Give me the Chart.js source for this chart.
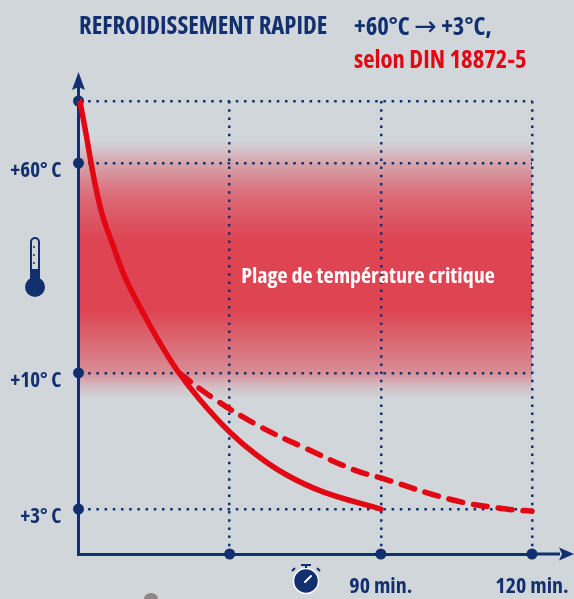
<!DOCTYPE html>
<html lang="fr">
<head>
<meta charset="utf-8">
<title>Refroidissement rapide</title>
<script src="https://cdn.jsdelivr.net/npm/chart.js@4"></script>
<style>
  body { margin: 0; background: #d1d6da; }
  #wrap { position: relative; width: 574px; height: 599px; overflow: hidden; font-family: "Open Sans", sans-serif; font-weight: bold; font-stretch: condensed; }
  #wrap div { position: absolute; white-space: nowrap; font-size: 24.7px; line-height: 28px; color: #12306f; }
  #wrap svg { position: absolute; left: 0; top: 0; }
  #wrap .arrow { font-family: "DejaVu Sans", sans-serif; font-weight: normal; font-stretch: normal; font-size: 27px; }
  canvas { position: absolute; left: 0; top: 0; }
</style>
</head>
<body>
<div id="wrap">
  <canvas id="myChart" width="574" height="599"></canvas>
  <div style="left:79px;top:11px">REFROIDISSEMENT RAPIDE</div>
  <div style="left:354px;top:12px">+60°C <span class="arrow">→</span> +3°C,</div>
  <div style="left:354px;top:45px;color:#e30613">selon DIN 18872-5</div>
  <svg width="574" height="599">
    <!-- thermometre -->
    <rect x="31" y="238" width="8" height="46" rx="4" fill="#d1d6da" stroke="#12306f" stroke-width="2"/>
    <rect x="31" y="269" width="8" height="14" fill="#12306f"/>
    <circle cx="35" cy="287" r="10" fill="#12306f"/>
    <path d="M33 247h2M33 255h2M33 263h2" stroke="#12306f" stroke-width="1.5"/>
    <!-- chrono -->
    <circle cx="306" cy="581" r="12.5" fill="#12306f" stroke="#fff" stroke-width="1.5"/>
    <path d="M301 565h10M306 565v3M295 568l-3 3M317 568l3 3" stroke="#12306f" stroke-width="2"/>
    <path d="M305 582l6-6" stroke="#fff" stroke-width="2" stroke-linecap="round"/>
    <!-- bout de photo en bas de l'image -->
    <ellipse cx="151" cy="599" rx="7" ry="6" fill="#8f8688"/>
  </svg>
</div>
<script>
// values
var xTicks = [45, 90, 120];
var xTickLabels = ['', '90 min.', '120 min.'];
var yTicks = [3, 10, 60, 75];
var yTickLabels = ['+3° C', '+10° C', '+60° C', ''];

var solidMinutes = [0.4, 2.1, 3.6, 5.3, 7.3, 10, 13.8, 18.3, 23.4, 29.3, 36.2, 45, 53, 62, 73, 90];
var solidTemps = [75, 67.7, 60.7, 53.6, 47.1, 41, 32.9, 25.7, 18.3, 10.7, 8.61, 6.96, 5.78, 4.75, 3.87, 3];

var dashedMinutes = [30, 39.7, 53.4, 67.9, 82.2, 90, 104.5, 114.9, 120];
var dashedTemps = [10, 8.75, 7.3, 6.1, 5.0, 4.6, 3.45, 3.0, 2.85];

var bandLabel = 'Plage de température critique';
var bandTemps = [8.7, 65.5];

var navy = '#12306f';
var red = '#e30613';
var fontFamily = '"Open Sans", sans-serif';

// the axes of the picture are not linear, each stretch has its own slope
var scaleStops = {
  x: { values: [0, 45, 90, 120], at: [0, 1 / 3, 2 / 3, 1] },
  y: { values: [0, 3, 10, 60, 75], at: [0, 0.0993, 0.3996, 0.8631, 1] }
};

class StretchScale extends Chart.LinearScale {
  getPixelForValue(value) {
    var s = scaleStops[this.id];
    var i = 1;
    while (i < s.values.length - 1 && value > s.values[i]) i++;
    var t = (value - s.values[i - 1]) / (s.values[i] - s.values[i - 1]);
    return this.getPixelForDecimal(s.at[i - 1] + t * (s.at[i] - s.at[i - 1]));
  }
}
StretchScale.id = 'stretch';
StretchScale.defaults = Chart.LinearScale.defaults;
Chart.register(StretchScale);

function points(xs, ys) {
  return xs.map(function (x, i) { return { x: x, y: ys[i] }; });
}

// red band, behind everything
var bandPlugin = {
  id: 'band',
  beforeDraw: function (chart) {
    var ctx = chart.ctx;
    var top = chart.scales.y.getPixelForValue(bandTemps[1]);
    var bottom = chart.scales.y.getPixelForValue(bandTemps[0]);
    var g = ctx.createLinearGradient(0, top, 0, bottom);
    g.addColorStop(0, 'rgba(222,68,82,0)');
    g.addColorStop(0.04, 'rgba(222,68,82,0.14)');
    g.addColorStop(0.09, 'rgba(222,68,82,0.34)');
    g.addColorStop(0.22, 'rgba(222,68,82,0.75)');
    g.addColorStop(0.39, 'rgba(222,68,82,1)');
    g.addColorStop(0.66, 'rgba(222,68,82,1)');
    g.addColorStop(0.90, 'rgba(222,68,82,0.5)');
    g.addColorStop(0.96, 'rgba(222,68,82,0.14)');
    g.addColorStop(1, 'rgba(222,68,82,0)');
    ctx.save();
    ctx.fillStyle = g;
    ctx.fillRect(chart.chartArea.left, top, chart.chartArea.width, bottom - top);
    ctx.restore();
  },
  afterDatasetsDraw: function (chart) {
    var ctx = chart.ctx;
    ctx.save();
    ctx.font = 'bold condensed 22px ' + fontFamily;
    ctx.fillStyle = '#fff';
    ctx.textAlign = 'center';
    ctx.textBaseline = 'middle';
    ctx.fillText(bandLabel, 368, chart.scales.y.getPixelForValue(33));
    ctx.restore();
  }
};

// axis ends and arrow heads
var arrowPlugin = {
  id: 'arrows',
  afterDatasetsDraw: function (chart) {
    var ctx = chart.ctx;
    var a = chart.chartArea;
    ctx.save();
    ctx.strokeStyle = navy;
    ctx.fillStyle = navy;
    ctx.lineWidth = 3;
    ctx.beginPath();
    ctx.moveTo(a.left, a.top);
    ctx.lineTo(a.left, a.top - 14);
    ctx.moveTo(a.right, a.bottom);
    ctx.lineTo(a.right + 28, a.bottom);
    ctx.stroke();
    ctx.beginPath();
    ctx.moveTo(a.left, a.top - 29);
    ctx.lineTo(a.left + 6.5, a.top - 11);
    ctx.lineTo(a.left, a.top - 14);
    ctx.lineTo(a.left - 6.5, a.top - 11);
    ctx.closePath();
    ctx.fill();
    ctx.beginPath();
    ctx.moveTo(a.right + 42, a.bottom);
    ctx.lineTo(a.right + 27, a.bottom - 6.5);
    ctx.lineTo(a.right + 30, a.bottom);
    ctx.lineTo(a.right + 27, a.bottom + 6.5);
    ctx.closePath();
    ctx.fill();
    ctx.restore();
  }
};

var myChart = new Chart(document.getElementById('myChart').getContext('2d'), {
  type: 'line',
  data: {
    datasets: [
      {
        label: 'Lent',
        data: points(dashedMinutes, dashedTemps),
        borderColor: red,
        borderWidth: 5.5,
        borderDash: [14, 11],
        borderCapStyle: 'round',
        tension: 0.4,
        pointRadius: 0,
        clip: false,
        order: 2
      },
      {
        label: 'Rapide',
        data: points(solidMinutes, solidTemps),
        borderColor: red,
        borderWidth: 5.5,
        borderCapStyle: 'round',
        tension: 0.4,
        pointRadius: 0,
        clip: false,
        order: 1
      },
      {
        label: 'Repères x',
        data: xTicks.map(function (x) { return { x: x, y: 0 }; }),
        showLine: false,
        pointRadius: 5.5,
        pointBackgroundColor: navy,
        pointBorderWidth: 0,
        clip: false,
        order: 3
      },
      {
        label: 'Repères y',
        data: yTicks.map(function (y) { return { x: 0, y: y }; }),
        showLine: false,
        pointRadius: 5.5,
        pointBackgroundColor: navy,
        pointBorderWidth: 0,
        clip: false,
        order: 3
      }
    ]
  },
  options: {
    responsive: false,
    animation: false,
    layout: { padding: { top: 101, right: 42, bottom: 0, left: 0 } },
    plugins: { legend: { display: false }, tooltip: { enabled: false } },
    scales: {
      x: {
        type: 'stretch',
        min: 0,
        max: 120,
        afterFit: function (scale) { scale.height = 45; scale.paddingRight = 0; scale.paddingLeft = 0; },
        afterBuildTicks: function (scale) {
          scale.ticks = xTicks.map(function (v) { return { value: v }; });
        },
        ticks: {
          autoSkip: false,
          maxRotation: 0,
          padding: 20,
          color: navy,
          font: { family: fontFamily, size: 22, weight: 'bold condensed' },
          callback: function (v) { return xTickLabels[xTicks.indexOf(v)]; }
        },
        grid: { color: navy, lineWidth: 2.5, drawTicks: false },
        border: { color: navy, width: 3, dash: [2.5, 5.7] }
      },
      y: {
        type: 'stretch',
        min: 0,
        max: 75,
        afterFit: function (scale) { scale.width = 78.5; scale.paddingTop = 0; scale.paddingBottom = 0; },
        afterBuildTicks: function (scale) {
          scale.ticks = yTicks.map(function (v) { return { value: v }; });
        },
        ticks: {
          autoSkip: false,
          padding: 17,
          labelOffset: 8,
          color: navy,
          font: { family: fontFamily, size: 21, weight: 'bold condensed' },
          callback: function (v) { return yTickLabels[yTicks.indexOf(v)]; }
        },
        grid: { color: navy, lineWidth: 2.5, drawTicks: false },
        border: { color: navy, width: 3, dash: [2.5, 5.7] }
      }
    }
  },
  plugins: [bandPlugin, arrowPlugin]
});
</script>
</body>
</html>
